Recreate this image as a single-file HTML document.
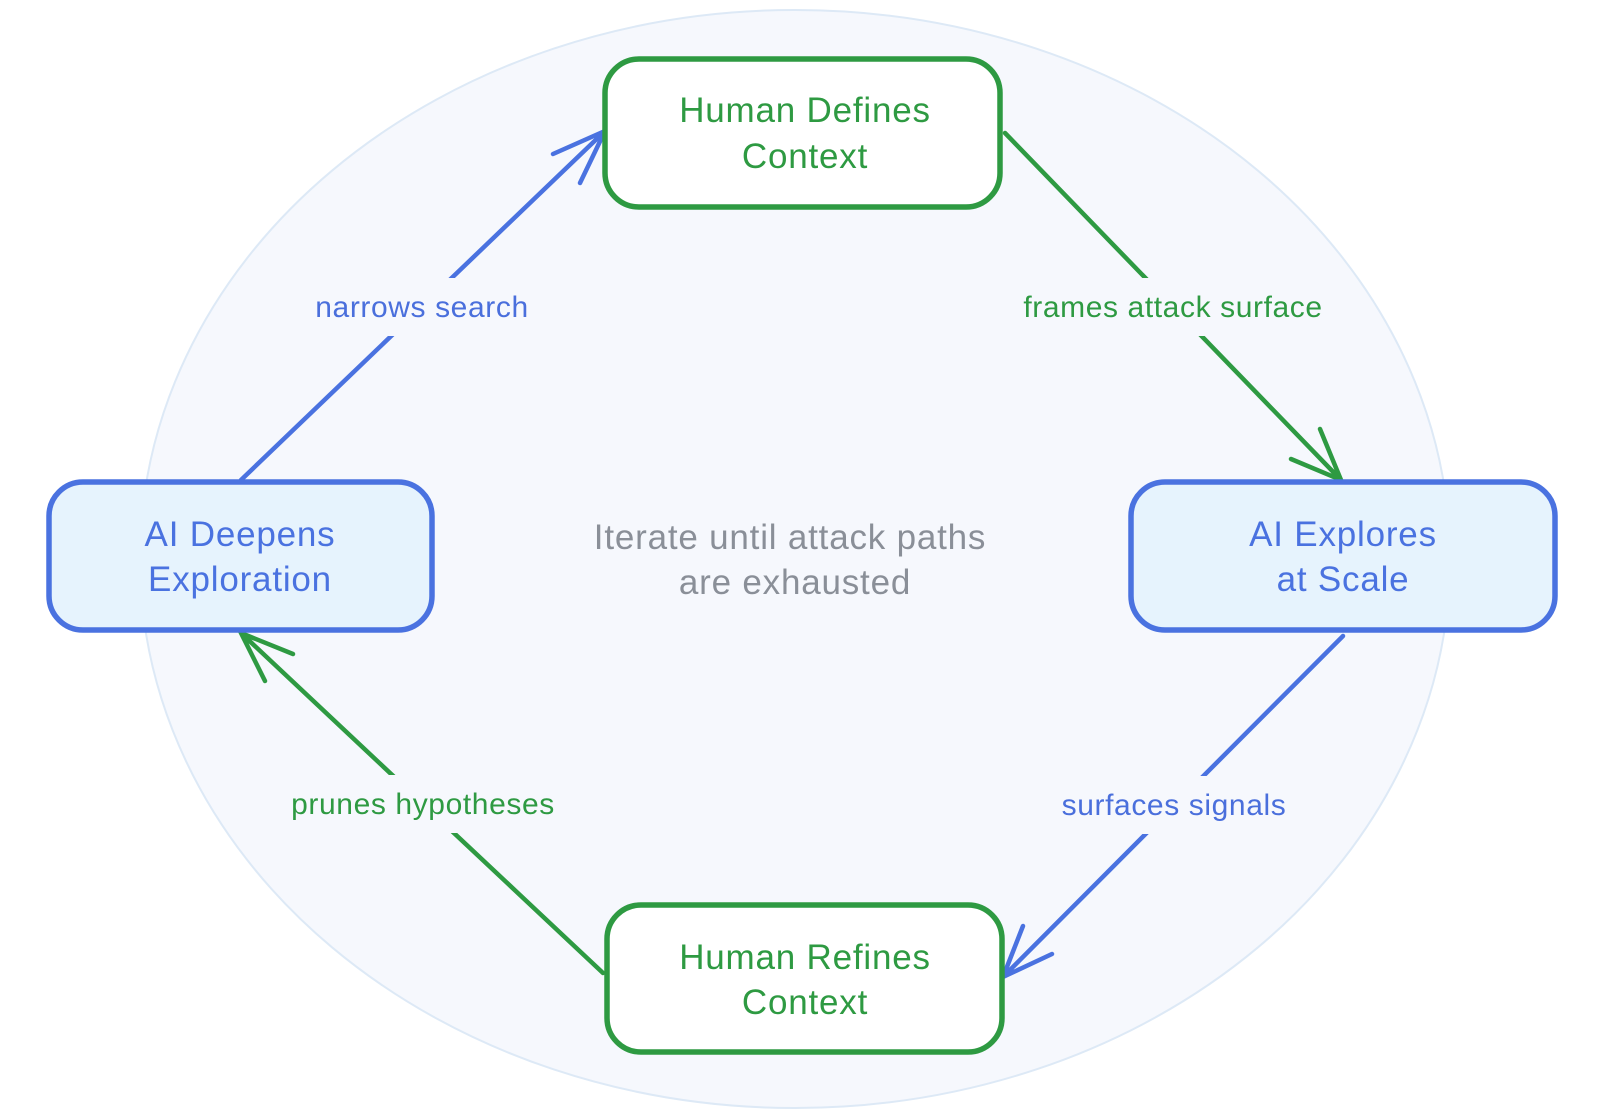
<!DOCTYPE html>
<html><head><meta charset="utf-8"><style>
html,body{margin:0;padding:0;background:#fff;}
svg{display:block;}
text{font-family:"Liberation Sans",sans-serif;}
</style></head><body>
<svg width="1600" height="1109" viewBox="0 0 1600 1109" xmlns="http://www.w3.org/2000/svg">
<ellipse cx="795" cy="559" rx="655" ry="549" fill="#f6f8fd" stroke="#dde9f6" stroke-width="2"/>
<g fill="none" stroke-linecap="round" stroke-width="4.5">
<path d="M241 480 L605 131 M553 154 L605 131 L580 183" stroke="#4a72e0"/>
<path d="M1005 133 L1341 480 M1291 459 L1341 480 L1320 429" stroke="#2e9a42"/>
<path d="M1343 636 L1003 977 M1052 954 L1003 977 L1023 926" stroke="#4a72e0"/>
<path d="M603 973 L241 633 M293 654 L241 633 L265 681" stroke="#2e9a42"/>
</g>
<g fill="#f6f8fd">
<rect x="300" y="278" width="245" height="58"/>
<rect x="1010" y="278" width="325" height="58"/>
<rect x="280" y="775" width="285" height="58"/>
<rect x="1050" y="776" width="250" height="58"/>
</g>
<rect x="605" y="59" width="395" height="148" rx="34" fill="#ffffff" stroke="#2e9a42" stroke-width="5.5"/>
<rect x="607" y="905" width="395" height="147" rx="34" fill="#ffffff" stroke="#2e9a42" stroke-width="5.5"/>
<rect x="49" y="482" width="383" height="148" rx="34" fill="#e6f3fd" stroke="#4a72e0" stroke-width="5.5"/>
<rect x="1131" y="482" width="424" height="148" rx="34" fill="#e6f3fd" stroke="#4a72e0" stroke-width="5.5"/>
<g font-size="35" text-anchor="middle" letter-spacing="0.8">
<text x="805" y="122" fill="#2e9a42">Human Defines</text>
<text x="805" y="168" fill="#2e9a42">Context</text>
<text x="805" y="969" fill="#2e9a42">Human Refines</text>
<text x="805" y="1014" fill="#2e9a42">Context</text>
<text x="240" y="546" fill="#4a72e0">AI Deepens</text>
<text x="240" y="591" fill="#4a72e0">Exploration</text>
<text x="1343" y="546" fill="#4a72e0">AI Explores</text>
<text x="1343" y="591" fill="#4a72e0">at Scale</text>
<text x="790" y="549" fill="#8a8f98">Iterate until attack paths</text>
<text x="795" y="594" fill="#8a8f98">are exhausted</text>
</g>
<g font-size="30" text-anchor="middle" letter-spacing="0.6">
<text x="422" y="317" fill="#4a6fdc">narrows search</text>
<text x="1173" y="317" fill="#2e9a42">frames attack surface</text>
<text x="423" y="814" fill="#2e9a42">prunes hypotheses</text>
<text x="1174" y="815" fill="#4a6fdc">surfaces signals</text>
</g>
</svg>
</body></html>
